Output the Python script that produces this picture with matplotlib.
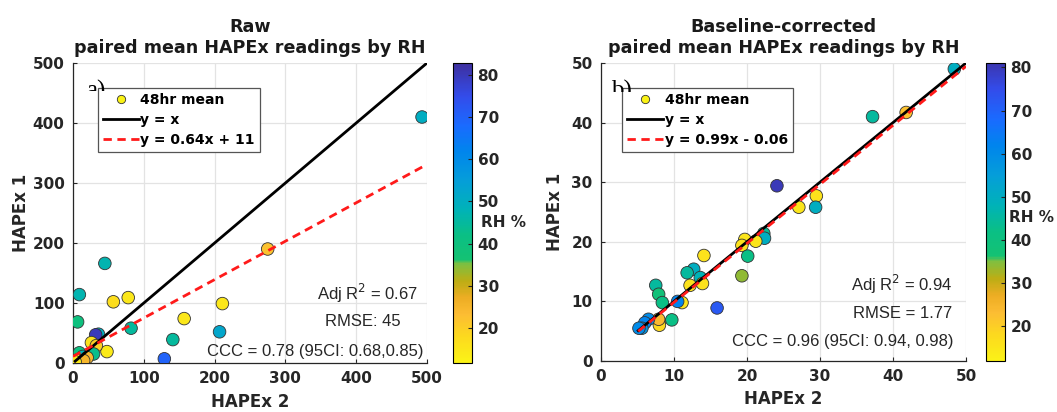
import matplotlib
matplotlib.use("Agg")
import matplotlib.pyplot as plt
import numpy as np
from matplotlib.colors import LinearSegmentedColormap
from matplotlib.lines import Line2D
from matplotlib.transforms import Bbox

plt.rcParams['font.family'] = ['Liberation Sans', 'DejaVu Sans']
BOLD = ['DejaVu Sans']

# ---------------- data ----------------
raw_x = [493, 275, 45, 9, 78, 57, 211, 6.5, 157, 82, 207, 141, 129, 36, 32, 48, 26, 33, 29, 9, 14, 6, 20, 15, 3]
raw_y = [410, 190, 166, 114, 109, 102, 99, 68.5, 74, 58, 52, 39, 7, 48, 47, 19, 34, 29, 15, 17, 11, 5, 9, 4, 2]
raw_rh = [50, 22, 47, 47, 15, 17, 15, 40, 15, 45, 52, 45, 70, 50, 80, 14, 16, 20, 43, 41, 48, 15, 24, 25, 14]

cor_x = [48.4, 41.8, 37.2, 24.1, 29.5, 27.1, 29.4, 22.3, 22.4, 19.7, 19.3, 21.2, 20.1, 14.1, 19.3,
         12.7, 11.8, 13.6, 12.2, 13.9, 7.5, 7.9, 8.4, 11.1, 10.5, 15.9, 9.7, 8.0, 8.0, 7.9, 6.5, 6.0, 5.6, 5.2]
cor_y = [49.0, 41.7, 41.0, 29.4, 27.7, 25.8, 25.8, 21.4, 20.6, 20.4, 19.4, 20.1, 17.6, 17.7, 14.3,
         15.4, 14.8, 14.0, 12.7, 13.0, 12.7, 11.2, 9.8, 9.8, 10.0, 8.9, 6.9, 6.6, 6.0, 7.0, 7.0, 6.4, 5.5, 5.5]
cor_rh = [50, 22, 45, 80, 16, 15, 50, 44, 50, 15, 16, 15, 42, 16, 34,
          50, 45, 48, 16, 16, 45, 38, 42, 15, 62, 72, 42, 16, 18, 24, 60, 62, 58, 60]

raw_fit = (0.64, 11)
cor_fit = (0.99, -0.06)
raw_clim = (11.7, 82.8)
cor_clim = (12.0, 81.0)
cbar_ticks = [20, 30, 40, 50, 60, 70, 80]

titles = ["Raw\npaired mean HAPEx readings by RH",
          "Baseline-corrected\npaired mean HAPEx readings by RH"]
fit_labels = ["y = 0.64x + 11", "y = 0.99x - 0.06"]
stats_raw = ["Adj R$^2$ = 0.67", "RMSE: 45", "CCC = 0.78 (95CI: 0.68,0.85)"]
stats_cor = ["Adj R$^2$ = 0.94", "RMSE = 1.77", "CCC = 0.96 (95CI: 0.94, 0.98)"]

# colour scale anchors (RH value -> colour), parula-like, yellow = dry
rh_anchor = [10, 18, 23, 27, 31, 35, 36.2, 42, 48, 55, 62, 68, 75, 84]
rgb_anchor = [(0.98, 0.98, 0.08), (0.99, 0.85, 0.12), (0.99, 0.74, 0.20), (0.93, 0.68, 0.14),
              (0.74, 0.68, 0.08), (0.50, 0.75, 0.25), (0.08, 0.76, 0.45), (0.04, 0.75, 0.52),
              (0.00, 0.70, 0.72), (0.02, 0.62, 0.85), (0.00, 0.52, 0.93), (0.10, 0.42, 1.00),
              (0.20, 0.30, 0.92), (0.25, 0.17, 0.58)]


def make_cmap(vmin, vmax):
    pos = [(v - rh_anchor[0]) / (rh_anchor[-1] - rh_anchor[0]) for v in rh_anchor]
    base = LinearSegmentedColormap.from_list("p", list(zip(pos, rgb_anchor)), N=512)
    lo = (vmin - rh_anchor[0]) / (rh_anchor[-1] - rh_anchor[0])
    hi = (vmax - rh_anchor[0]) / (rh_anchor[-1] - rh_anchor[0])
    return LinearSegmentedColormap.from_list("pc", base(np.linspace(lo, hi, 256)), N=256)


W, H = 1057, 412
fig = plt.figure(figsize=(W / 100, H / 100), dpi=100)


def fx(px):
    return px / W


def fy(py):
    return 1 - py / H


panels = [
    dict(ax=(73, 63, 427, 363), cb=(453, 472), lim=500, ticks=[0, 100, 200, 300, 400, 500],
         x=raw_x, y=raw_y, c=raw_rh, fit=raw_fit, clim=raw_clim, line_x=(3, 500), fit_x=(0, 500),
         stats=stats_raw, letter="a)", letter_px=(86, 98), clip_y=91,
         stat_pos=[(0.975, 0.233, 'right'), (0.82, 0.137, 'center'), (0.99, 0.037, 'right')],
         leg_anchor=(0.07, 0.917), rh_pos=(1.45, 0.467)),
    dict(ax=(601, 63, 966, 361), cb=(986, 1005), lim=50, ticks=[0, 10, 20, 30, 40, 50],
         x=cor_x, y=cor_y, c=cor_rh, fit=cor_fit, clim=cor_clim, line_x=(5.1, 50), fit_x=(5.1, 50),
         stats=stats_cor, letter="b)", letter_px=(611, 98), clip_y=92,
         stat_pos=[(0.962, 0.258, 'right'), (0.962, 0.158, 'right'), (0.967, 0.064, 'right')],
         leg_anchor=(0.058, 0.917), rh_pos=(1.2, 0.48)),
]

for i, p in enumerate(panels):
    x0, y0, x1, y1 = p['ax']
    ax = fig.add_axes([fx(x0), fy(y1), fx(x1 - x0), fy(y0) - fy(y1)])
    ax.set_xlim(0, p['lim'])
    ax.set_ylim(0, p['lim'])
    ax.set_xticks(p['ticks'])
    ax.set_yticks(p['ticks'])
    ax.grid(True, color='#e3e3e3', lw=0.9)
    ax.set_axisbelow(True)
    for s in ['top', 'right']:
        ax.spines[s].set_visible(False)
    for s in ['left', 'bottom']:
        ax.spines[s].set_color('#262626')
        ax.spines[s].set_linewidth(0.9)
    ax.tick_params(direction='in', length=3, width=0.8, labelsize=11, colors='#262626', pad=6)
    for lab in ax.get_xticklabels() + ax.get_yticklabels():
        lab.set_fontweight('bold')
        lab.set_family(BOLD)
        lab.set_color('#262626')
    ax.set_xlabel("HAPEx 2", fontsize=12, fontweight='bold', family=BOLD, color='#262626',
                  labelpad=5 if i == 0 else 4)
    ax.set_ylabel("HAPEx 1", fontsize=12, fontweight='bold', family=BOLD, color='#262626',
                  labelpad=2 if i == 0 else 5)
    ax.set_title(titles[i], fontsize=12.6, fontweight='bold', family=BOLD, color='#1a1a1a',
                 pad=7, linespacing=1.25)

    # panel letter, mostly hidden
    lt = fig.text(fx(p['letter_px'][0]), fy(p['letter_px'][1]), p['letter'], fontsize=18,
                  family=['Liberation Serif', 'DejaVu Serif'], va='baseline', ha='left', zorder=1)
    lt.set_clip_box(Bbox.from_extents(0, H - p['clip_y'], W, H))
    lt.set_clip_on(True)

    cmap = make_cmap(*p['clim'])
    sc = ax.scatter(p['x'], p['y'], c=p['c'], cmap=cmap, vmin=p['clim'][0], vmax=p['clim'][1],
                    s=82, edgecolors='#333333', linewidths=0.6, zorder=3)
    lx = np.array(p['line_x'])
    ax.plot(lx, lx, color='black', lw=2, zorder=4)
    fxs = np.array(p['fit_x'])
    ax.plot(fxs, p['fit'][0] * fxs + p['fit'][1], color='#ff1a1a', lw=2, ls=(0, (3.0, 2.0)), zorder=5)

    handles = [Line2D([], [], ls='none', marker='o', markersize=6, markerfacecolor=(0.98, 0.95, 0.08),
                      markeredgecolor='#333333', markeredgewidth=0.6),
               Line2D([], [], color='black', lw=2),
               Line2D([], [], color='#ff1a1a', lw=2, ls=(0, (3.0, 2.0)))]
    leg = ax.legend(handles, ["48hr mean", "y = x", fit_labels[i]], loc='upper left',
                    bbox_to_anchor=p['leg_anchor'], fancybox=False, framealpha=1, edgecolor='#555555',
                    prop={'weight': 'bold', 'size': 10, 'family': BOLD}, handlelength=2.6,
                    handletextpad=0.1, borderpad=0.35, labelspacing=0.45, borderaxespad=0)
    leg.set_zorder(10)
    leg.get_frame().set_linewidth(0.9)

    for (tx, ty, ha), s in zip(p['stat_pos'], p['stats']):
        ax.text(tx, ty, s, transform=ax.transAxes, ha=ha, va='center', fontsize=12, color='#262626')

    cb0, cb1 = p['cb']
    cax = fig.add_axes([fx(cb0), fy(y1), fx(cb1 - cb0), fy(y0) - fy(y1)])
    cb = fig.colorbar(sc, cax=cax)
    cb.set_ticks(cbar_ticks)
    cb.outline.set_linewidth(0.8)
    cax.tick_params(direction='in', length=3, labelsize=11, colors='#262626', pad=4)
    for lab in cax.get_yticklabels():
        lab.set_fontweight('bold')
        lab.set_family(BOLD)
    cax.text(p['rh_pos'][0], p['rh_pos'][1], "RH %", transform=cax.transAxes, fontsize=11,
             fontweight='bold', family=BOLD, ha='left', va='center', color='#262626')

fig.savefig("out.png", dpi=100)
